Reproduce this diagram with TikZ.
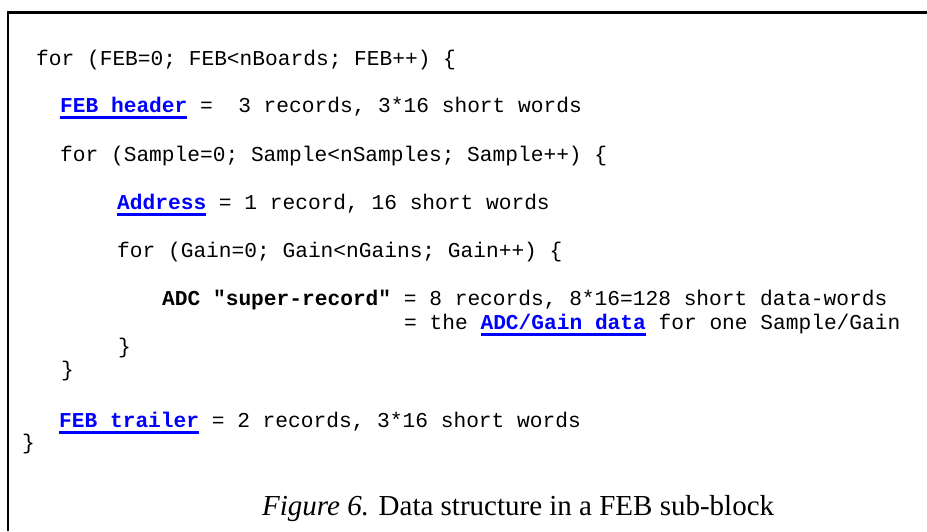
\documentclass[tikz,border=0pt]{standalone}
\usepackage{fontspec}
\setmainfont{Liberation Serif}
\setmonofont{Liberation Mono}
\newlength\lnkw
\newcommand\lnk[1]{\settowidth\lnkw{\bfseries #1}\textcolor{blue}{\bfseries\rlap{\rule[-6.5pt]{\lnkw}{2.6pt}}#1}}
\begin{document}
\begin{tikzpicture}[x=1pt,y=-1pt,
  code/.style={anchor=base west, inner sep=0pt, font=\fontsize{21.2}{24}\selectfont\ttfamily},
  caption/.style={anchor=base west, inner sep=0pt, font=\fontsize{29}{32}\selectfont\rmfamily}]
\useasboundingbox (0,0) rectangle (927,531);
\draw[line width=2.2pt] (927,12.5) -- (8,12.5) -- (8,531);
\node[code] (l1) at (36,65) {for (FEB=0; FEB<nBoards; FEB++) \{};
\node[code] (l2) at (60,112) {\lnk{FEB header} =\ \ 3 records, 3*16 short words};
\node[code] (l3) at (60,161) {for (Sample=0; Sample<nSamples; Sample++) \{};
\node[code] (l4) at (117,209) {\lnk{Address} = 1 record, 16 short words};
\node[code] (l5) at (117,257) {for (Gain=0; Gain<nGains; Gain++) \{};
\node[code] (l6) at (162,305) {\textbf{ADC "super-record"} = 8 records, 8*16=128 short data-words};
\node[code] (l7) at (404,329) {= the \lnk{ADC/Gain data} for one Sample/Gain};
\node[code] (l8) at (118,353) {\}};
\node[code] (l9) at (61,376) {\}};
\node[code] (l10) at (59,427) {\lnk{FEB trailer} = 2 records, 3*16 short words};
\node[code] (l11) at (22,449) {\}};
\node[caption] (cap) at (262,515) {\textit{Figure 6.} Data structure in a FEB sub-block};
\end{tikzpicture}
\end{document}
